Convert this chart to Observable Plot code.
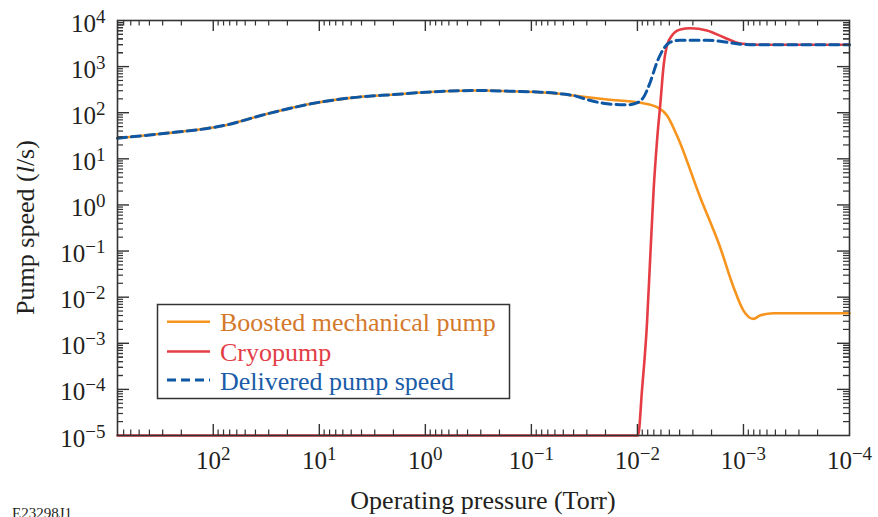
<!DOCTYPE html>
<html><head><meta charset="utf-8">
<script src="https://cdn.jsdelivr.net/npm/d3@7"></script>
<script src="https://cdn.jsdelivr.net/npm/@observablehq/plot@0.6"></script>
<style>
body{margin:0;background:#fff;}
#wrap{position:relative;width:878px;height:517px;overflow:hidden;}
</style></head><body><div id="wrap"></div>
<script>
// ---- data (pressure in Torr, pump speed in l/s) ----
const boostedP = [800, 310, 105, 73, 35.6, 21.6, 12, 5.05, 1.99, 0.67, 0.32, 0.157, 0.082, 0.053, 0.040, 0.0192, 0.00937, 0.00653, 0.00526, 0.00424, 0.00256, 0.00166, 0.00124, 0.001, 0.000805, 0.0007, 0.000522, 0.0001];
const boostedS = [28, 35, 47, 55, 87, 116, 156, 210, 248, 292, 303, 292, 279, 257, 236, 193, 164, 132, 87, 32, 1.47, 0.121, 0.0164, 0.00512, 0.00338, 0.0040, 0.00448, 0.00448];
const cryoP = [800, 0.00986, 0.00906, 0.00813, 0.00757, 0.00704, 0.00653, 0.00608, 0.00566, 0.00526, 0.00472, 0.00394, 0.00318, 0.00221, 0.00154, 0.00107, 0.0007, 0.0001];
const cryoS = [1e-5, 1e-5, 9.4e-5, 0.00264, 0.0734, 2.05, 25, 156, 1057, 2868, 4728, 6378, 6808, 6072, 4343, 3170, 2972, 2972];
const deliveredP = [800, 310, 105, 73, 35.6, 21.6, 12, 5.05, 1.99, 0.67, 0.32, 0.157, 0.082, 0.053, 0.040, 0.0277, 0.0193, 0.01253, 0.0101, 0.00875, 0.00757, 0.00654, 0.00566, 0.0049, 0.00394, 0.00221, 0.00143, 0.00107, 0.000697, 0.0001];
const deliveredS = [28, 35, 47, 55, 87, 116, 156, 210, 248, 292, 303, 292, 279, 257, 236, 184, 156, 148, 164, 217, 459, 1246, 2432, 3384, 3739, 3739, 3384, 3062, 2972, 2972];

const seriesNames = ["Boosted mechanical pump", "Cryopump", "Delivered pump speed"];
const xMajor = [100, 10, 1, 0.1, 0.01, 0.001, 0.0001];
const yMajor = [1e-5, 1e-4, 1e-3, 1e-2, 1e-1, 1, 10, 100, 1000, 10000];
const xDomain = [800, 1e-4];
const yDomain = [1e-5, 1e4];
const xLabel = "Operating pressure (Torr)";
const figId = "E23298J1";

// ---- styling ----
const W = 878, H = 517, mL = 117, mR = 29, mT = 20, mB = 82;
const innerW = W - mL - mR, innerH = H - mT - mB;
const ink = "#231f20", axisInk = "#333";
const colors = {boosted: "#f7941d", cryo: "#e63c44", delivered: "#0d57a5"};
const textColors = ["#d4792c", "#e23d46", "#1a5ca8"];

const minorOf = (majors, lo, hi) => {
  const out = [];
  for (const m of majors.concat([majors[majors.length - 1] / 10, majors[0] * 10])) {
    for (let k = 2; k <= 9; k++) { const v = k * m; if (v > lo && v < hi) out.push(v); }
  }
  return out;
};
const xMinor = minorOf(xMajor, 1e-4, 800);
const yMinor = minorOf(yMajor, 1e-5, 1e4);

const toRows = (P, S) => P.map((p, i) => ({p, s: S[i]}));
const boosted = toRows(boostedP, boostedS);
const cryo = toRows(cryoP, cryoS);
const delivered = toRows(deliveredP, deliveredS);

const fmt = d => `10^${Math.round(Math.log10(d))}`.replace("-", "\u2212");

const plot = Plot.plot({
  width: W, height: H,
  marginLeft: mL, marginRight: mR, marginTop: mT, marginBottom: mB,
  style: {fontFamily: "'Liberation Serif', 'Times New Roman', serif", color: ink, background: "white"},
  x: {type: "log", domain: xDomain, axis: null},
  y: {type: "log", domain: yDomain, axis: null},
  marks: [
    Plot.line(boosted, {x: "p", y: "s", stroke: colors.boosted, strokeWidth: 2.6, curve: "monotone-x"}),
    Plot.line(cryo, {x: "p", y: "s", stroke: colors.cryo, strokeWidth: 2.6, curve: "monotone-x"}),
    Plot.line(delivered, {x: "p", y: "s", stroke: colors.delivered, strokeWidth: 3, strokeDasharray: "9,5", curve: "monotone-x"}),
    Plot.frame({stroke: axisInk, strokeWidth: 1.6}),
    // inward ticks, bottom / top
    Plot.tickX(xMajor.filter(d => d > 1e-4), {x: d => d, stroke: axisInk, strokeWidth: 1.4, insetTop: innerH - 11}),
    Plot.tickX(xMajor.filter(d => d > 1e-4), {x: d => d, stroke: axisInk, strokeWidth: 1.4, insetBottom: innerH - 11}),
    Plot.tickX(xMinor, {x: d => d, stroke: axisInk, strokeWidth: 1.2, insetTop: innerH - 5.5}),
    Plot.tickX(xMinor, {x: d => d, stroke: axisInk, strokeWidth: 1.2, insetBottom: innerH - 5.5}),
    // inward ticks, left / right
    Plot.tickY(yMajor.filter(d => d > 1e-5 && d < 1e4), {y: d => d, stroke: axisInk, strokeWidth: 1.4, insetRight: innerW - 12}),
    Plot.tickY(yMajor.filter(d => d > 1e-5 && d < 1e4), {y: d => d, stroke: axisInk, strokeWidth: 1.4, insetLeft: innerW - 12}),
    Plot.tickY(yMinor, {y: d => d, stroke: axisInk, strokeWidth: 1.2, insetRight: innerW - 6}),
    Plot.tickY(yMinor, {y: d => d, stroke: axisInk, strokeWidth: 1.2, insetLeft: innerW - 6}),
    // tick labels
    Plot.axisX({anchor: "bottom", ticks: xMajor, tickSize: 0, tickPadding: 16, tickFormat: fmt, fontSize: 25, fill: ink, label: null}),
    Plot.axisY({anchor: "left", ticks: yMajor, tickSize: 0, tickPadding: 12, tickFormat: fmt, fontSize: 25, fill: ink, dy: 3, label: null})
  ]
});

const ns = "http://www.w3.org/2000/svg";
plot.querySelectorAll('g[aria-label="x-axis tick label"] text, g[aria-label="y-axis tick label"] text').forEach(t => {
  const [b, e] = t.textContent.split("^");
  t.textContent = "";
  const t1 = document.createElementNS(ns, "tspan"); t1.textContent = b; t.appendChild(t1);
  const t2 = document.createElementNS(ns, "tspan");
  t2.setAttribute("dy", "-0.47em"); t2.setAttribute("font-size", "76%"); t2.textContent = e;
  t.appendChild(t2);
});

const svg = d3.select(plot);
// axis titles
svg.append("text").attr("x", mL + innerW / 2).attr("y", 509).attr("text-anchor", "middle")
  .attr("font-size", 26).attr("fill", ink).text(xLabel);
const yl = svg.append("text").attr("transform", `translate(34,${mT + innerH / 2}) rotate(-90)`)
  .attr("text-anchor", "middle").attr("font-size", 26).attr("fill", ink);
yl.append("tspan").text("Pump speed (");
yl.append("tspan").attr("font-style", "italic").text("l");
yl.append("tspan").text("/s)");

// legend
const lg = svg.append("g").attr("text-anchor", "start");
lg.append("rect").attr("x", 157.5).attr("y", 304.5).attr("width", 352).attr("height", 94)
  .attr("fill", "white").attr("stroke", axisInk).attr("stroke-width", 1.5);
const rowsY = [321.7, 351.5, 380];
const lcol = [colors.boosted, colors.cryo, colors.delivered];
seriesNames.forEach((name, i) => {
  const ln = lg.append("line").attr("x1", 167).attr("x2", 210).attr("y1", rowsY[i]).attr("y2", rowsY[i])
    .attr("stroke", lcol[i]).attr("stroke-width", 2.6);
  if (i === 2) ln.attr("stroke-dasharray", "9,5").attr("stroke-width", 3);
  lg.append("text").attr("x", 220).attr("y", rowsY[i] + 9.5).attr("font-size", 26)
    .attr("text-anchor", "start").attr("fill", textColors[i]).text(name);
});

// figure id
svg.append("text").attr("x", 12).attr("y", 518).attr("font-size", 15).attr("text-anchor", "start")
  .attr("fill", ink).text(figId);

document.getElementById("wrap").appendChild(plot);
</script></body></html>
